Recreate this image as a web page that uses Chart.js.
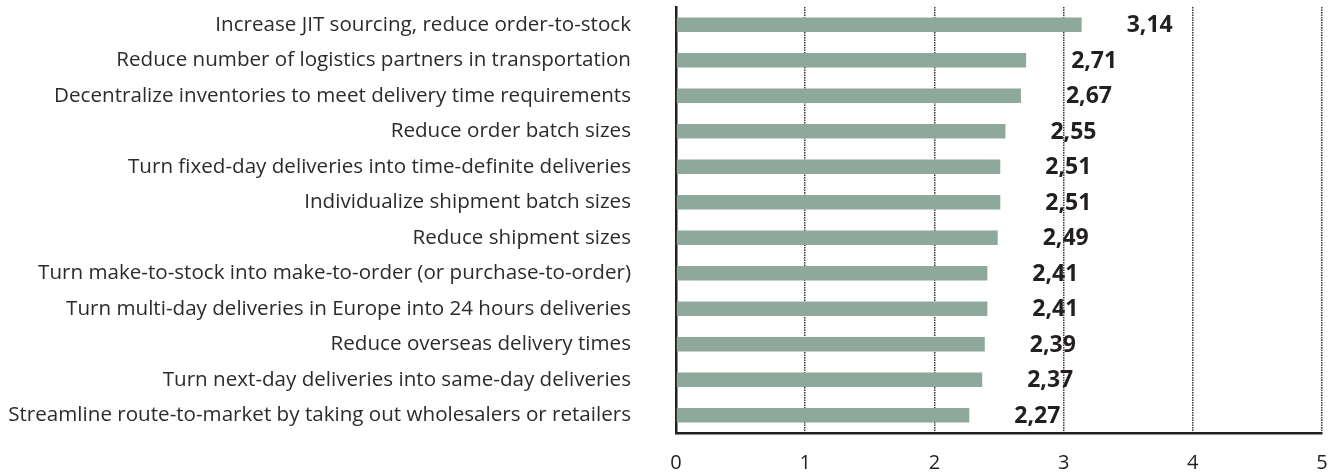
<!DOCTYPE html>
<html>
<head>
<meta charset="utf-8">
<script src="https://cdn.jsdelivr.net/npm/chart.js@4/dist/chart.umd.min.js"></script>
<style>
  html, body { margin: 0; padding: 0; background: #fff; }
  #wrap { width: 1339px; height: 475px; }
</style>
</head>
<body>
<div id="wrap"><canvas id="chart" width="1339" height="475"></canvas></div>
<script>
const categories = [
  "Increase JIT sourcing, reduce order-to-stock",
  "Reduce number of logistics partners in transportation",
  "Decentralize inventories to meet delivery time requirements",
  "Reduce order batch sizes",
  "Turn fixed-day deliveries into time-definite deliveries",
  "Individualize shipment batch sizes",
  "Reduce shipment sizes",
  "Turn make-to-stock into make-to-order (or purchase-to-order)",
  "Turn multi-day deliveries in Europe into 24 hours deliveries",
  "Reduce overseas delivery times",
  "Turn next-day deliveries into same-day deliveries",
  "Streamline route-to-market by taking out wholesalers or retailers"
];
const values = [3.14, 2.71, 2.67, 2.55, 2.51, 2.51, 2.49, 2.41, 2.41, 2.39, 2.37, 2.27];
const xTicks = [0, 1, 2, 3, 4, 5];

const TEXT = "#231f20";

// bold value next to each bar, decimal comma
const valueLabels = {
  id: "valueLabels",
  afterDatasetsDraw(chart) {
    const ctx = chart.ctx;
    const meta = chart.getDatasetMeta(0);
    ctx.save();
    ctx.font = "bold 23px 'Open Sans'";
    ctx.fillStyle = TEXT;
    ctx.textAlign = "left";
    ctx.textBaseline = "middle";
    meta.data.forEach((bar, i) => {
      ctx.fillText(values[i].toFixed(2).replace(".", ","), bar.x + 45, bar.y + 1);
    });
    ctx.restore();
  }
};

new Chart(document.getElementById("chart"), {
  type: "bar",
  data: {
    labels: categories,
    datasets: [{
      data: values,
      backgroundColor: "#8fa89c",
      borderWidth: 0,
      categoryPercentage: 1,
      barPercentage: 0.41
    }]
  },
  options: {
    indexAxis: "y",
    responsive: false,
    animation: false,
    layout: { padding: { top: 7, right: 17, left: 0, bottom: 0 } },
    plugins: { legend: { display: false }, tooltip: { enabled: false } },
    scales: {
      x: {
        min: 0,
        max: 5,
        afterBuildTicks(scale) { scale.ticks = xTicks.map(v => ({ value: v })); },
        afterFit(scale) {
          scale.height = 42;
          scale.paddingLeft = 0;
          scale.paddingRight = 0;
        },
        grid: {
          color: ctx => ctx.index === 0 ? "rgba(0,0,0,0)" : "#3a3a3a",
          lineWidth: 1.5,
          drawTicks: false
        },
        border: { display: true, color: "#231f20", width: 2.5, dash: [1.5, 1] },
        ticks: {
          color: TEXT,
          font: { family: "'Open Sans'", size: 20 },
          padding: 18
        }
      },
      y: {
        afterFit(scale) {
          scale.width = 676;
          scale.paddingTop = 0;
          scale.paddingBottom = 0;
        },
        grid: { display: false, drawTicks: false },
        border: { display: true, color: "#231f20", width: 2.5 },
        ticks: {
          color: "#2e2a2b",
          font: { family: "'Open Sans'", size: 20.6 },
          padding: 45
        }
      }
    }
  },
  plugins: [valueLabels]
});
</script>
</body>
</html>
